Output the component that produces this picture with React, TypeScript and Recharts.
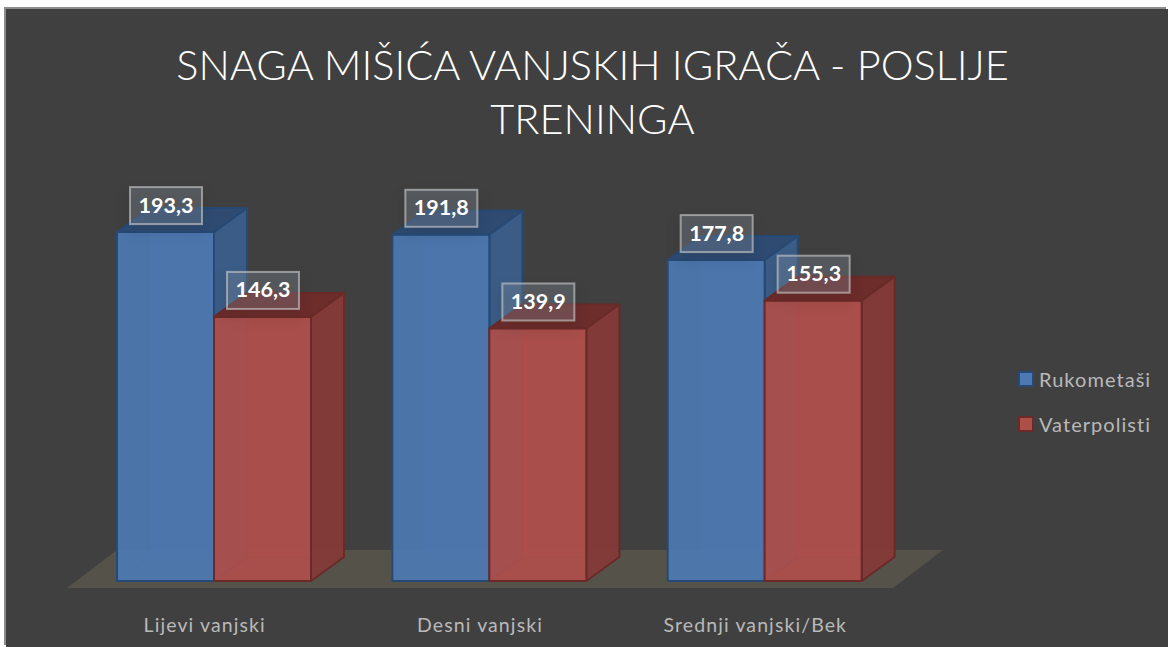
import React from 'react';
import { Bar, BarChart, LabelList, Legend, ReferenceArea, XAxis, YAxis } from 'recharts';

const categories = ['Lijevi vanjski', 'Desni vanjski', 'Srednji vanjski/Bek'];
const rukometasi = [193.3, 191.8, 177.8];
const vaterpolisti = [146.3, 139.9, 155.3];
const titleLines = ['SNAGA MIŠIĆA VANJSKIH IGRAČA - POSLIJE', 'TRENINGA'];

const data = categories.map((name, i) => ({
  name,
  Rukometaši: rukometasi[i],
  Vaterpolisti: vaterpolisti[i],
}));

const FONT = 'Lato, Carlito, sans-serif';
const DEPTH_X = 33;
const DEPTH_Y = 24;

const BLUE = { front: '#4c79b2', side: '#3b5d88', top: '#2f4b72', line: '#264a75', legend: '#4f81bd' };
const RED = { front: '#ae4f4b', side: '#843a38', top: '#6c2d2b', line: '#692a28', legend: '#c0504d' };

const Box3D = (props: any) => {
  const { x, y, width, height, colors } = props;
  const r = x + width;
  const b = y + height;
  const dx = DEPTH_X;
  const dy = DEPTH_Y;
  return (
    <g stroke={colors.line} strokeWidth={2} strokeLinejoin="round">
      <rect x={x + dx} y={y - dy} width={width} height={height} fill={colors.legend} fillOpacity={0.25} strokeOpacity={0.2} />
      <path d={`M${x},${b} L${x + dx},${b - dy}`} fill="none" strokeOpacity={0.2} />
      <path d={`M${x},${y} L${x + dx},${y - dy} L${r + dx},${y - dy} L${r},${y} Z`} fill={colors.top} />
      <path d={`M${r},${y} L${r + dx},${y - dy} L${r + dx},${b - dy} L${r},${b} Z`} fill={colors.side} fillOpacity={0.95} />
      <rect x={x} y={y} width={width} height={height} fill={colors.front} fillOpacity={0.93} />
    </g>
  );
};

const Floor = (props: any) => {
  const { x, y, width, height } = props;
  const left = x - 9;
  const right = x + width - 9;
  const bottom = y + height + 7;
  const top = y + height - 31;
  return <path d={`M${left},${bottom} L${right},${bottom} L${right + 50},${top} L${left + 50},${top} Z`} fill="#55524a" />;
};

const ValueBox = (props: any) => {
  const { x, y, value } = props;
  return (
    <g>
      <rect
        x={x + 13}
        y={y - 45}
        width={72}
        height={37}
        fill="#8a94a2"
        fillOpacity={0.3}
        stroke="#c4c4c4"
        strokeOpacity={0.65}
        strokeWidth={2}
        style={{ filter: 'drop-shadow(0 7px 7px rgba(0,0,0,0.22))' }}
      />
      <text x={x + 49} y={y - 19.5} textAnchor="middle" fill="#ffffff" fontFamily={FONT} fontWeight={700} fontSize={21.5}>
        {String(value).replace('.', ',')}
      </text>
    </g>
  );
};

const CategoryTick = (props: any) => {
  const { x, y, payload } = props;
  return (
    <text x={x - 9} y={y + 45} textAnchor="middle" fill="#b9b9b9" fontFamily={FONT} fontSize={19.5} letterSpacing={1.1}>
      {payload.value}
    </text>
  );
};

const LegendBlock = (props: any) => (
  <div>
    {props.payload.map((item: any) => {
      const colors = item.value === 'Rukometaši' ? BLUE : RED;
      return (
        <div key={item.value} style={{ display: 'flex', alignItems: 'center', height: 45 }}>
          <span
            style={{
              width: 12,
              height: 12,
              background: colors.front,
              border: `2px solid ${colors.line}`,
              marginRight: 5,
            }}
          />
          <span style={{ color: '#b9b9b9', fontFamily: FONT, fontSize: 20, letterSpacing: 1.05 }}>{item.value}</span>
        </div>
      );
    })}
  </div>
);

export default function App() {
  return (
    <div style={{ position: 'absolute', left: 0, top: 0, width: 1168, height: 647, background: '#ffffff', overflow: 'hidden' }}>
      <div
        style={{
          position: 'absolute',
          left: 6,
          top: 9,
          width: 1162,
          height: 638,
          background: '#404040',
          boxShadow: '-2px -2px 0 #8c8c8c',
        }}
      >
        <div
          style={{
            position: 'absolute',
            left: 0,
            top: 28,
            width: 1173,
            textAlign: 'center',
            color: '#ffffff',
            fontFamily: FONT,
            fontWeight: 300,
            fontSize: 41.5,
            lineHeight: '54px',
          }}
        >
          {titleLines.map((line) => (
            <div key={line}>{line}</div>
          ))}
        </div>
        <BarChart
          width={1162}
          height={638}
          data={data}
          margin={{ top: 211, right: 116, bottom: 0, left: 70 }}
          barGap={0}
          barSize={97}
          style={{ position: 'absolute', left: 0, top: 0 }}
        >
          <XAxis dataKey="name" axisLine={false} tickLine={false} tickMargin={0} height={66} tick={<CategoryTick />} />
          <YAxis hide domain={[0, 200]} />
          <ReferenceArea y1={0} y2={200} shape={<Floor />} ifOverflow="visible" />
          <Legend
            layout="vertical"
            align="right"
            verticalAlign="middle"
            content={<LegendBlock />}
            wrapperStyle={{ left: 1012, top: 347, width: 150 }}
          />
          <Bar dataKey="Rukometaši" isAnimationActive={false} shape={<Box3D colors={BLUE} />}>
            <LabelList content={<ValueBox />} />
          </Bar>
          <Bar dataKey="Vaterpolisti" isAnimationActive={false} shape={<Box3D colors={RED} />}>
            <LabelList content={<ValueBox />} />
          </Bar>
        </BarChart>
      </div>
    </div>
  );
}
